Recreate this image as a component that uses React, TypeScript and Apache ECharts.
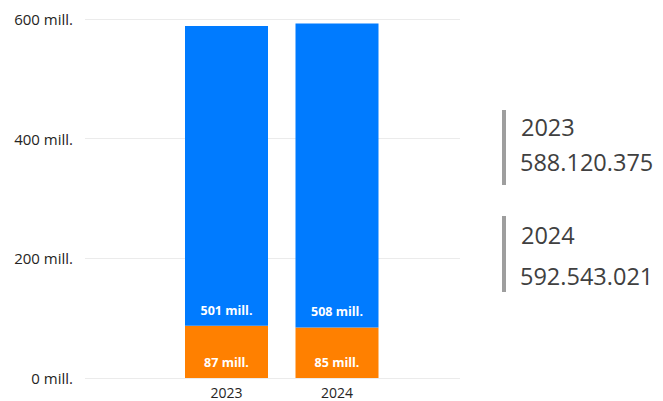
import React, { useEffect, useRef } from "react";
import * as echarts from "echarts";

const categories = ["2023", "2024"];
const orangeValues = [87.12, 84.54];
const blueValues = [501.0, 508.0];
const yTicks = [0, 200, 400, 600];
const kpiYears = ["2023", "2024"];
const kpiTotals = ["588.120.375", "592.543.021"];

const FONT = "'Open Sans', 'Noto Sans', sans-serif";

export default function App() {
  const ref = useRef<HTMLDivElement>(null);
  useEffect(() => {
    document.body.style.margin = "0";
    if (!ref.current) return;
    const chart = echarts.init(ref.current, undefined, { renderer: "svg" });
    const labelCommon = {
      show: true,
      position: "insideBottom" as const,
      distance: 9,
      color: "#ffffff",
      fontWeight: "bold" as const,
      fontSize: 12.5,
      fontFamily: FONT,
      formatter: (p: any) => Math.round(p.value) + " mill.",
    };
    const kpiGraphics: any[] = [];
    kpiYears.forEach((y, i) => {
      const top = i === 0 ? 110 : 216;
      const h = i === 0 ? 75 : 76;
      kpiGraphics.push({
        type: "rect",
        shape: { x: 502, y: top, width: 4, height: h },
        style: { fill: "#9E9E9E" },
      });
      kpiGraphics.push({
        type: "text",
        x: 521,
        y: i === 0 ? 127 : 235,
        style: {
          text: y,
          fontSize: 23.5,
          fontFamily: FONT,
          fill: "#404040",
          verticalAlign: "middle",
        },
      });
      kpiGraphics.push({
        type: "text",
        x: 520,
        y: i === 0 ? 162 : 276,
        style: {
          text: kpiTotals[i],
          fontSize: 23.5,
          fontFamily: FONT,
          fill: "#404040",
          verticalAlign: "middle",
        },
      });
    });
    chart.setOption({
      animation: false,
      textStyle: { fontFamily: FONT },
      grid: [
        { left: 85, width: 375, top: 19, bottom: 23, containLabel: false },
        { left: 171.25, width: 221, top: 19, bottom: 23, containLabel: false },
      ],
      xAxis: [
        { type: "category", gridIndex: 0, data: categories, show: false },
        {
          type: "category",
          gridIndex: 1,
          data: categories,
          axisLine: { show: false },
          axisTick: { show: false },
          axisLabel: { color: "#252423", fontSize: 14, margin: 7, fontFamily: FONT },
        },
      ],
      yAxis: [
        {
          type: "value",
          gridIndex: 0,
          min: yTicks[0],
          max: yTicks[yTicks.length - 1],
          interval: yTicks[1] - yTicks[0],
          axisLine: { show: false },
          axisTick: { show: false },
          axisLabel: {
            color: "#252423",
            fontSize: 15,
            margin: 12,
            fontFamily: FONT,
            formatter: (v: number) => v + " mill.",
          },
          splitLine: { lineStyle: { color: "#EBEBEB", width: 1 } },
        },
        {
          type: "value",
          gridIndex: 1,
          min: yTicks[0],
          max: yTicks[yTicks.length - 1],
          interval: yTicks[1] - yTicks[0],
          show: false,
          splitLine: { show: false },
        },
      ],
      series: [
        {
          type: "bar",
          name: "orange",
          xAxisIndex: 1,
          yAxisIndex: 1,
          stack: "total",
          barWidth: 83,
          data: orangeValues,
          itemStyle: { color: "#FF8000" },
          label: labelCommon,
        },
        {
          type: "bar",
          name: "blue",
          xAxisIndex: 1,
          yAxisIndex: 1,
          stack: "total",
          barWidth: 83,
          data: blueValues,
          itemStyle: { color: "#007BFF" },
          label: labelCommon,
        },
      ],
      graphic: kpiGraphics,
    });
    return () => chart.dispose();
  }, []);
  return <div ref={ref} style={{ width: 663, height: 401 }} />;
}
